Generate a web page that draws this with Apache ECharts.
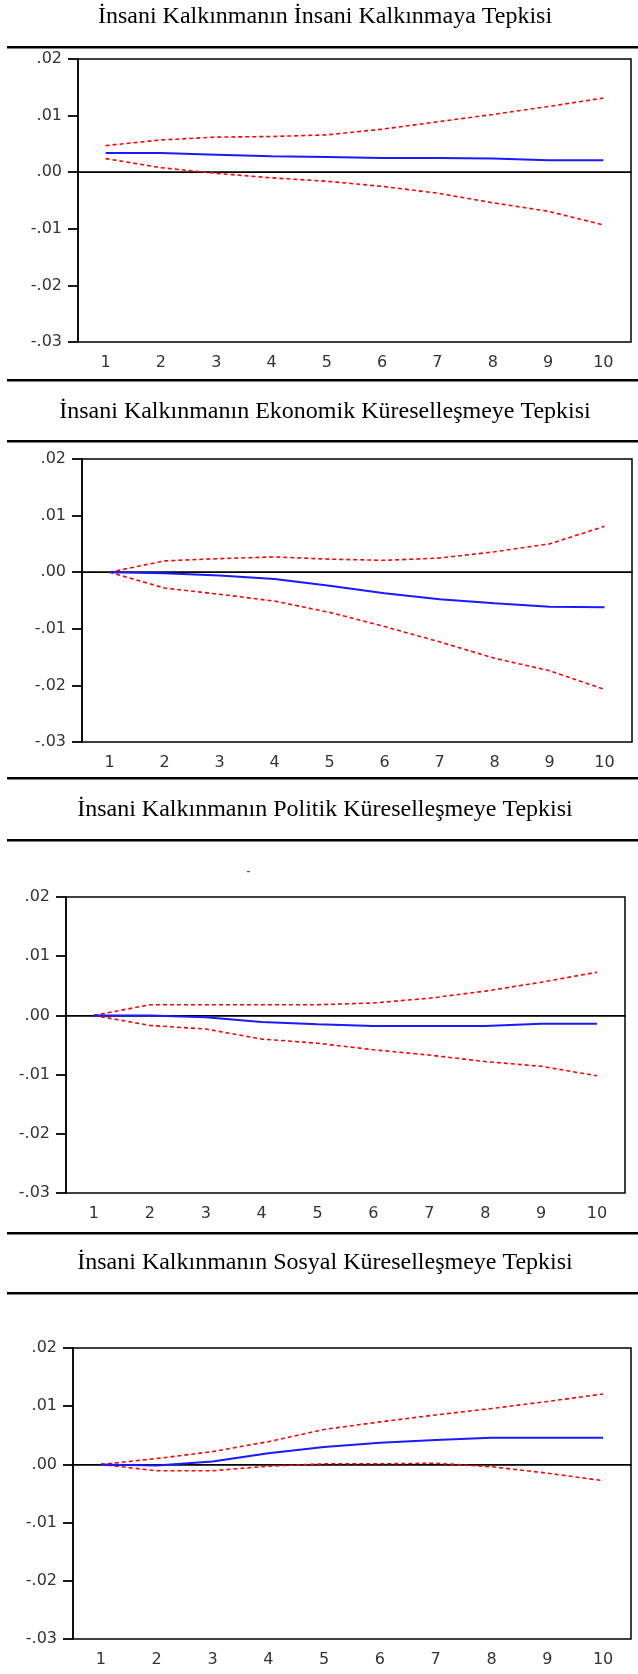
<!DOCTYPE html>
<html>
<head>
<meta charset="UTF-8">
<title>Etki-tepki</title>
<script src="https://cdn.jsdelivr.net/npm/echarts@6/dist/echarts.min.js"></script>
<style>
  body { margin: 0; background: #fff; }
</style>
</head>
<body>
<div id="main" style="width:638px;height:1674px"></div>
<script>
// dönemler (x ekseni)
var periods = ['1', '2', '3', '4', '5', '6', '7', '8', '9', '10'];

// İnsani Kalkınma -> İnsani Kalkınma
var ikResp  = [0.0034, 0.0034, 0.0031, 0.0028, 0.0027, 0.0025, 0.0025, 0.0024, 0.0021, 0.0021];
var ikUpper = [0.0047, 0.0057, 0.0062, 0.0063, 0.0066, 0.0076, 0.0089, 0.0102, 0.0116, 0.0131];
var ikLower = [0.0024, 0.0008, -0.0002, -0.0010, -0.0016, -0.0025, -0.0037, -0.0054, -0.0069, -0.0093];

// Ekonomik Küreselleşme
var ekResp  = [0, -0.0002, -0.0006, -0.0012, -0.0024, -0.0037, -0.0048, -0.0055, -0.0061, -0.0062];
var ekUpper = [0, 0.0020, 0.0024, 0.0027, 0.0023, 0.0021, 0.0025, 0.0036, 0.0050, 0.0081];
var ekLower = [0, -0.0028, -0.0039, -0.0051, -0.0071, -0.0096, -0.0123, -0.0152, -0.0174, -0.0207];

// Politik Küreselleşme
var pkResp  = [0, 0, -0.0003, -0.0011, -0.0015, -0.0018, -0.0018, -0.0018, -0.0014, -0.0014];
var pkUpper = [0, 0.0018, 0.0018, 0.0018, 0.0018, 0.0021, 0.0029, 0.0041, 0.0056, 0.0073];
var pkLower = [0, -0.0017, -0.0023, -0.0040, -0.0047, -0.0058, -0.0067, -0.0078, -0.0086, -0.0102];

// Sosyal Küreselleşme
var skResp  = [0, -0.0002, 0.0005, 0.0019, 0.0030, 0.0037, 0.0042, 0.0046, 0.0046, 0.0046];
var skUpper = [0, 0.0010, 0.0022, 0.0039, 0.0060, 0.0073, 0.0085, 0.0096, 0.0108, 0.0121];
var skLower = [0, -0.0011, -0.0011, -0.0003, 0.0001, 0.0001, 0.0002, -0.0004, -0.0015, -0.0028];

var titles = [
    'İnsani Kalkınmanın İnsani Kalkınmaya Tepkisi',
    'İnsani Kalkınmanın Ekonomik Küreselleşmeye Tepkisi',
    'İnsani Kalkınmanın Politik Küreselleşmeye Tepkisi',
    'İnsani Kalkınmanın Sosyal Küreselleşmeye Tepkisi'
];

var panels = [
    { resp: ikResp, up: ikUpper, lo: ikLower, titleTop: 5,    grid: { left: 78, top: 59,   width: 553, height: 283 } },
    { resp: ekResp, up: ekUpper, lo: ekLower, titleTop: 400,  grid: { left: 82, top: 459,  width: 550, height: 283 } },
    { resp: pkResp, up: pkUpper, lo: pkLower, titleTop: 798,  grid: { left: 66, top: 897,  width: 559, height: 296 } },
    { resp: skResp, up: skUpper, lo: skLower, titleTop: 1251, grid: { left: 73, top: 1348, width: 558, height: 291 } }
];

// yatay çizgiler (tablo çizgileri)
var ruleY = [47, 380, 441, 778, 840, 1233, 1293];

var labelFont = { color: '#333', fontFamily: 'DejaVu Sans', fontSize: 16 };

function yFmt(v) {
    if (Math.abs(v) < 1e-9) return '.00';
    return v.toFixed(2).replace('0.', '.');
}

var option = {
    animation: false,
    backgroundColor: '#fff',
    title: [],
    grid: [],
    xAxis: [],
    yAxis: [],
    series: [],
    graphic: []
};

panels.forEach(function (p, i) {
    option.title.push({
        text: titles[i],
        left: 325,
        top: p.titleTop,
        textAlign: 'center',
        padding: 0,
        textStyle: { fontFamily: 'Liberation Serif', fontSize: 24, fontWeight: 'normal', color: '#000', lineHeight: 24 }
    });
    option.grid.push({
        left: p.grid.left, top: p.grid.top, width: p.grid.width, height: p.grid.height,
        show: true, borderColor: '#000', borderWidth: 1.5, backgroundColor: '#fff'
    });
    option.xAxis.push({
        type: 'category',
        gridIndex: i,
        data: periods,
        boundaryGap: true,
        axisLine: { lineStyle: { color: '#000', width: 1.5 } },
        axisTick: { inside: false, length: 8, lineStyle: { color: '#000', width: 1.8 } },
        axisLabel: Object.assign({ margin: 13 }, labelFont),
        splitLine: { show: false }
    });
    option.yAxis.push({
        type: 'value',
        gridIndex: i,
        min: -0.03,
        max: 0.02,
        interval: 0.01,
        axisLine: { show: true, lineStyle: { color: '#000', width: 1.5 } },
        axisTick: { show: true, inside: false, length: 10, lineStyle: { color: '#000', width: 1.8 } },
        axisLabel: Object.assign({ margin: 16, formatter: yFmt }, labelFont),
        splitLine: { show: false }
    });
    // güven bantları (±2 S.E.)
    option.series.push({
        type: 'line', xAxisIndex: i, yAxisIndex: i, data: p.up,
        symbol: 'none', lineStyle: { color: '#ff0000', width: 1.6, type: [4, 3] }
    });
    option.series.push({
        type: 'line', xAxisIndex: i, yAxisIndex: i, data: p.lo,
        symbol: 'none', lineStyle: { color: '#ff0000', width: 1.6, type: [4, 3] }
    });
    // tepki
    option.series.push({
        type: 'line', xAxisIndex: i, yAxisIndex: i, data: p.resp,
        symbol: 'none', z: 3,
        lineStyle: { color: '#1a1aff', width: 2 },
        markLine: {
            silent: true, symbol: 'none', label: { show: false }, z: 1,
            lineStyle: { color: '#000', width: 1.2, type: 'solid' },
            data: [{ yAxis: 0 }]
        }
    });
});

ruleY.forEach(function (y) {
    option.graphic.push({
        type: 'rect', shape: { x: 7, y: y - 1, width: 631, height: 2.4 },
        style: { fill: '#000' }, silent: true
    });
});
// küçük leke (orijinal görselde)
option.graphic.push({
    type: 'rect', shape: { x: 247, y: 871, width: 3, height: 1.2 },
    style: { fill: '#555' }, silent: true
});

var myChart = echarts.init(document.getElementById('main'));
myChart.setOption(option);
</script>
</body>
</html>
